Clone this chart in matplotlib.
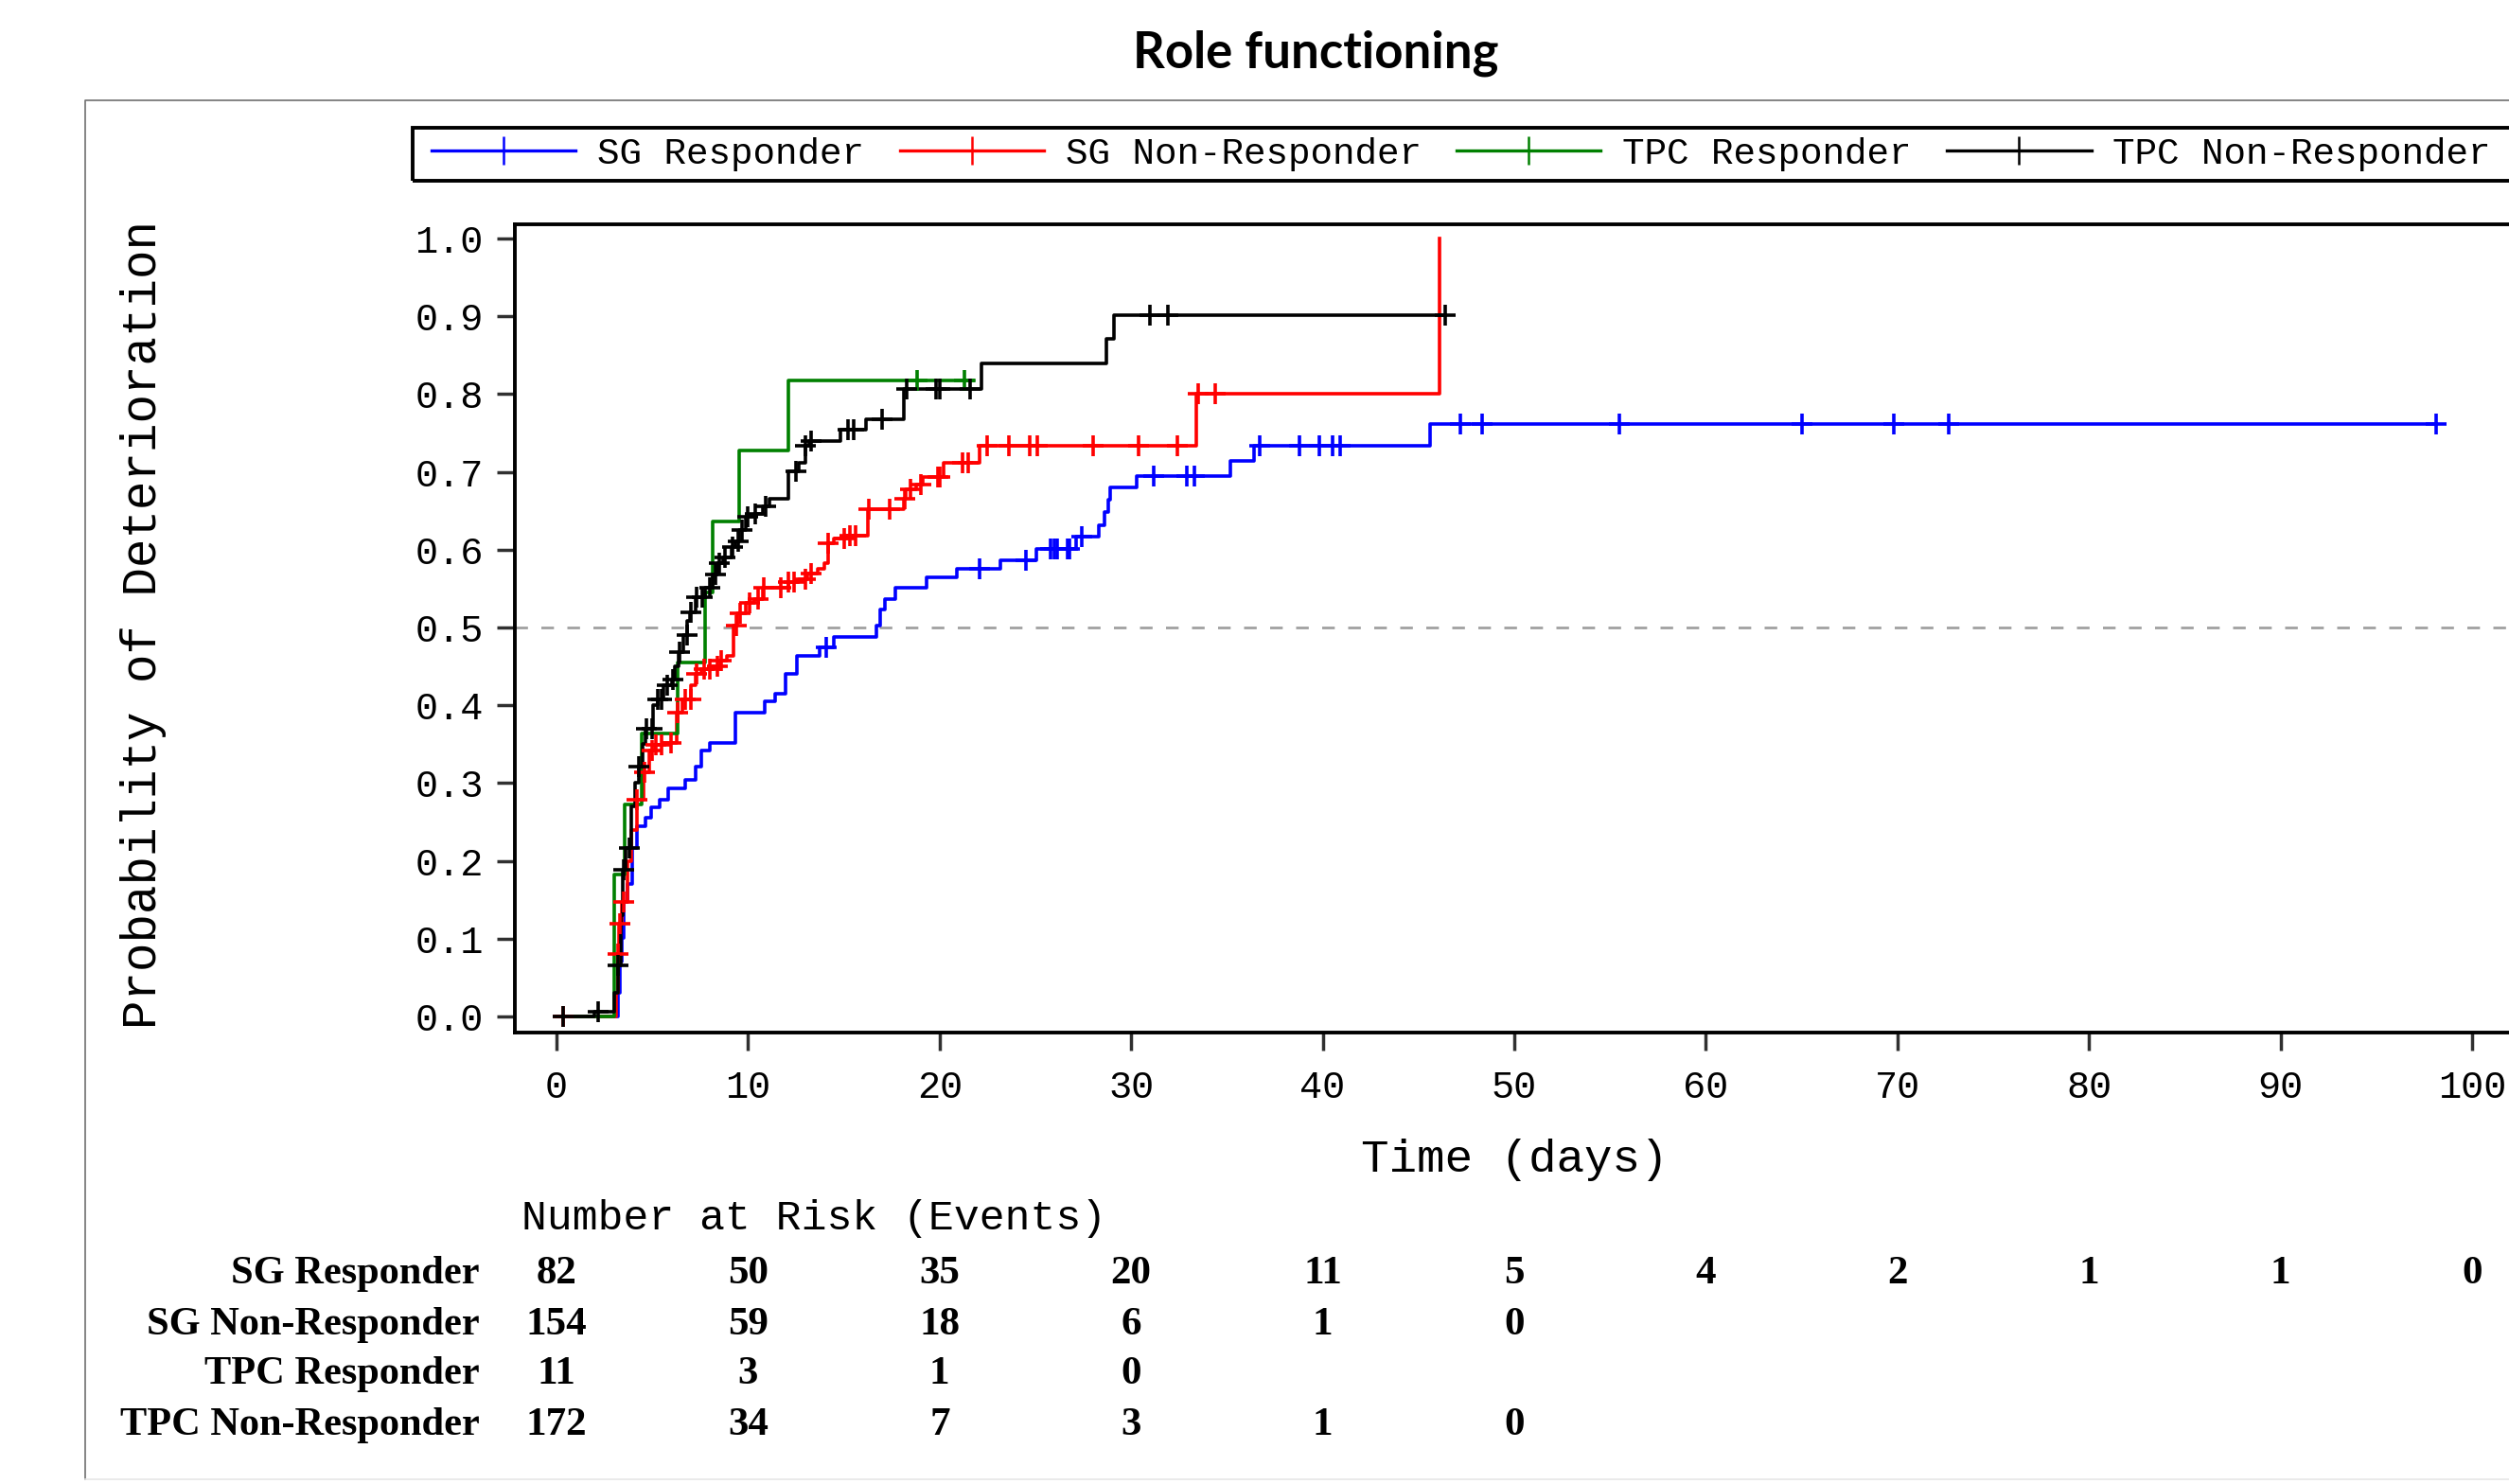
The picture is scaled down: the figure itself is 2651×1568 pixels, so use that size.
import numpy as np
import matplotlib
matplotlib.use('Agg')
import matplotlib.pyplot as plt
import matplotlib.transforms as mtransforms
from matplotlib.lines import Line2D
from matplotlib.patches import Rectangle

# curves: step times (days) and probability of deterioration after each step
sg_resp_t = [0, 3.2, 3.3, 3.41, 3.52, 3.7, 3.96, 4.18, 4.62, 4.95, 5.38, 5.82, 6.7, 7.25, 7.58, 8.02,
             9.34, 10.88, 11.43, 11.98, 12.53, 13.74, 14.5, 16.7, 16.92, 17.14, 17.69, 19.34, 20.88,
             23.19, 25.05, 27.1, 28.3, 28.6, 28.8, 28.9, 30.3, 35.2, 36.4, 45.6, 98.1]
sg_resp_p = [0, 0.03, 0.07, 0.101, 0.147, 0.17, 0.216, 0.244, 0.255, 0.269, 0.279, 0.293, 0.304, 0.321,
             0.342, 0.352, 0.391, 0.405, 0.415, 0.44, 0.464, 0.475, 0.488, 0.502, 0.523, 0.537, 0.551,
             0.565, 0.576, 0.586, 0.601, 0.617, 0.631, 0.648, 0.664, 0.68, 0.695, 0.714, 0.734, 0.762, 0.762]
sg_resp_cens = [14.07, 22.1, 24.5, 25.8, 26.0, 26.15, 26.7, 26.8, 27.4, 31.2, 32.9, 33.3, 36.7, 38.8,
                39.8, 40.5, 40.9, 47.2, 48.3, 55.5, 65.0, 69.8, 72.7, 98.1]

sg_non_t = [0, 3.1, 3.19, 3.25, 3.4, 3.7, 3.9, 4.18, 4.57, 4.84, 5.16, 5.6, 6.26, 6.59, 7.03, 7.25, 7.58,
            8.13, 8.57, 8.9, 9.23, 9.45, 9.89, 10.33, 10.77, 12.09, 12.64, 13.08, 13.63, 13.96, 14.18,
            14.5, 15.16, 16.26, 18.13, 18.24, 18.79, 19.12, 20.22, 22.09, 33.4, 46.1]
sg_non_p = [0, 0.03, 0.08, 0.119, 0.147, 0.2, 0.24, 0.279, 0.314, 0.342, 0.349, 0.352, 0.391, 0.408,
            0.426, 0.44, 0.447, 0.45, 0.457, 0.464, 0.502, 0.518, 0.532, 0.537, 0.551, 0.558, 0.562,
            0.569, 0.576, 0.583, 0.608, 0.614, 0.618, 0.652, 0.666, 0.678, 0.684, 0.694, 0.712, 0.734,
            0.800, 1.0]
sg_non_cens = [0.33, 3.2, 3.3, 3.5, 4.2, 4.6, 5.0, 5.2, 5.5, 6.0, 6.3, 6.7, 7.0, 7.3, 7.7, 8.0, 8.4, 8.6,
               9.4, 9.6, 10.1, 10.5, 10.8, 11.7, 12.1, 12.4, 13.0, 13.3, 14.2, 15.0, 15.3, 15.6, 16.3,
               17.4, 18.2, 18.5, 19.0, 19.9, 20.0, 21.2, 21.5, 22.5, 23.6, 24.7, 25.1, 28.0, 30.4, 32.4,
               33.5, 34.4]

tpc_resp_t = [0, 3.0, 3.56, 4.44, 6.3, 7.74, 8.13, 9.56, 12.1, 21.8]
tpc_resp_p = [0, 0.182, 0.273, 0.364, 0.455, 0.545, 0.636, 0.727, 0.818, 0.818]
tpc_resp_cens = [18.8, 21.3]

tpc_non_t = [0, 2.0, 3.0, 3.2, 3.35, 3.47, 3.63, 3.9, 4.1, 4.29, 4.5, 4.66, 5.05, 5.27, 5.6, 6.04, 6.2,
             6.37, 6.6, 6.81, 6.99, 7.25, 7.74, 8.13, 8.4, 8.68, 9.12, 9.34, 9.56, 9.89, 10.33, 10.77,
             11.1, 12.09, 12.64, 12.97, 13.19, 14.84, 16.15, 18.13, 22.2, 28.7, 29.1, 46.4]
tpc_non_p = [0, 0.006, 0.03, 0.066, 0.13, 0.188, 0.216, 0.27, 0.30, 0.321, 0.35, 0.37, 0.40, 0.408,
             0.426, 0.433, 0.45, 0.468, 0.49, 0.509, 0.52, 0.539, 0.551, 0.568, 0.583, 0.59, 0.604,
             0.611, 0.625, 0.642, 0.646, 0.656, 0.666, 0.701, 0.712, 0.733, 0.74, 0.754, 0.768, 0.806,
             0.839, 0.871, 0.902, 0.902]
tpc_non_cens = [0.33, 2.15, 3.2, 3.5, 3.8, 4.3, 4.7, 5.0, 5.3, 5.5, 5.8, 6.1, 6.4, 6.8, 7.0, 7.3, 7.6,
                8.0, 8.3, 8.5, 8.8, 9.2, 9.5, 9.7, 10.0, 10.4, 10.9, 12.5, 13.0, 13.3, 15.2, 15.5, 17.0,
                18.3, 19.8, 20.0, 21.6, 31.0, 31.9, 46.4]

# number at risk table
risk_days = [0, 10, 20, 30, 40, 50, 60, 70, 80, 90, 100]
risk_sg_resp = [82, 50, 35, 20, 11, 5, 4, 2, 1, 1, 0]
risk_sg_non = [154, 59, 18, 6, 1, 0]
risk_tpc_resp = [11, 3, 1, 0]
risk_tpc_non = [172, 34, 7, 3, 1, 0]

labels = ['SG Responder', 'SG Non-Responder', 'TPC Responder', 'TPC Non-Responder']
colors = ['#0000ff', '#ff0000', '#008000', '#000000']

curves = [(sg_resp_t, sg_resp_p, sg_resp_cens),
          (sg_non_t, sg_non_p, sg_non_cens),
          (tpc_resp_t, tpc_resp_p, tpc_resp_cens),
          (tpc_non_t, tpc_non_p, tpc_non_cens)]
risks = [risk_sg_resp, risk_sg_non, risk_tpc_resp, risk_tpc_non]

W, H = 2651, 1568
mono = 'Liberation Mono'

fig = plt.figure(figsize=(W / 100, H / 100), dpi=100)

# outer grey frame (runs off the right edge like the original screenshot)
fig.add_artist(Line2D([90 / W, 90 / W, 1.0], [1 - 1563 / H, 1 - 106 / H, 1 - 106 / H],
                      transform=fig.transFigure, color='#707070', lw=1.2))
fig.add_artist(Line2D([90 / W, 1.0], [1 - 1563 / H, 1 - 1563 / H],
                      transform=fig.transFigure, color='#e6e6e6', lw=1.2))

fig.text(1390 / W, 1 - 56 / H, 'Role functioning', ha='center', va='center',
         fontsize=38, fontweight='bold', family='Lato')

ax_left, ax_right, ax_top, ax_bot = 544, 2690, 237, 1091
ax = fig.add_axes([ax_left / W, 1 - ax_bot / H, (ax_right - ax_left) / W, (ax_bot - ax_top) / H])

px_day = 20.24
ax.set_xlim((ax_left - 588) / px_day, (ax_right - 588) / px_day)
px_p = 822
ax.set_ylim(-(ax_bot - 1074) / px_p, (1074 - ax_top) / px_p)

ax.axhline(0.5, color='#a0a0a0', lw=2.0, dashes=(4.8, 5.1), zorder=1)

for (t, p, cens), col in zip(curves, colors):
    t = np.array(t)
    p = np.array(p)
    ax.plot(t, p, drawstyle='steps-post', color=col, lw=2.6, zorder=3)
    c = np.array(cens)
    idx = np.searchsorted(t, c, side='right') - 1
    ax.plot(c, p[idx], ls='none', marker='+', ms=16, mew=2.6, color=col, zorder=4)

for s in ax.spines.values():
    s.set_linewidth(2.8)
ax.set_xticks(risk_days)
ax.set_yticks(np.arange(0, 1.01, 0.1))
ax.set_yticklabels(['%.1f' % v for v in np.arange(0, 1.01, 0.1)])
ax.tick_params(axis='both', direction='out', length=14, width=2.5, labelsize=29, color='#303030')
ax.tick_params(axis='y', pad=10)
ax.tick_params(axis='x', pad=14)
for lab in ax.get_xticklabels() + ax.get_yticklabels():
    lab.set_family(mono)

fig.text(152 / W, 1 - 660 / H, 'Probability of Deterioration', rotation=90, ha='center', va='center',
         fontsize=36.5, family=mono)

bt = mtransforms.blended_transform_factory(ax.transData, fig.transFigure)
fig.text(50, 1 - 1226 / H, 'Time (days)', transform=bt, ha='center', va='center', fontsize=35.5, family=mono)

# legend: box drawn separately so it runs off the right edge like the original
fig.patches.append(Rectangle((436 / W, 1 - 191 / H), 1.0, 56 / H, transform=fig.transFigure,
                             fill=False, edgecolor='black', linewidth=2.8))
handles = [Line2D([], [], color=col, lw=2.4, marker='+', ms=22, mew=1.8) for col in colors]
fig.legend(handles, labels, loc='center left', bbox_to_anchor=(456 / W, 1 - 163 / H), ncol=4,
           prop={'family': mono, 'size': 28.3}, frameon=False, borderpad=0, handlelength=3.87,
           handletextpad=0.58, columnspacing=0.96, numpoints=1, borderaxespad=0)

# number at risk table
fig.text(551 / W, 1 - 1288 / H, 'Number at Risk (Events)', ha='left', va='center', fontsize=32.2, family=mono)
row_y = [1346, 1400, 1452, 1506]
for lab, vals, yy in zip(labels, risks, row_y):
    fig.text(507 / W, 1 - yy / H, lab, ha='right', va='center', fontsize=30.5, fontweight='bold',
             family='Liberation Serif')
    for d, v in zip(risk_days, vals):
        fig.text(d, 1 - yy / H, str(v), transform=bt, ha='center', va='center', fontsize=31,
                 fontweight='bold', family='Liberation Serif')

fig.savefig('out.png', dpi=100)
